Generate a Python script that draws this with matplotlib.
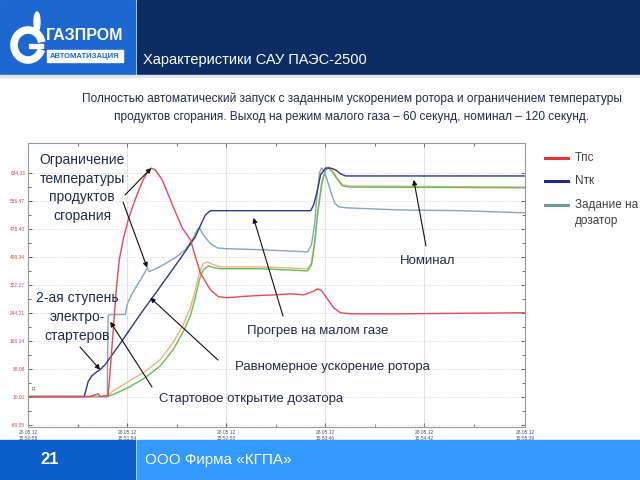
import matplotlib.pyplot as plt
import numpy as np
from matplotlib.patches import Rectangle, Arc, Ellipse

plt.rcParams['font.family'] = ['Liberation Sans', 'DejaVu Sans']

# время, с от 15:50:58
t_red = [0, 35.1, 39.7, 40.8, 45.3, 46.5, 48.2, 49.9, 51.6, 53.8, 56.7, 59.5, 62.3, 65.1, 68.0, 69.7,
         71.9, 75.9, 82.1, 87.2, 91.8, 97.4, 103.1, 107.6, 112.2, 120.1, 129.7, 139.9, 148.4, 155.8,
         160.9, 163.7, 166.0, 168.8, 172.8, 176.7, 182.4, 210.7, 281]
tps = [10, 10, 18, 10, 13, 85, 197, 308, 392, 448, 504, 545, 582, 615, 640, 648,
       643, 615, 540, 481, 448, 356, 308, 289, 286, 289, 292, 294, 297, 294,
       303, 311, 306, 286, 258, 244, 241, 241, 244]

t_ntk = [0, 31.7, 32.9, 34.0, 36.3, 39.1, 40.8, 43.6, 52.1, 63.4, 74.8, 86.1, 94.6, 97.4, 100.3,
         103.1, 108.8, 159.8, 161.5, 163.7, 165.4, 168.2, 171.1, 173.9, 176.7, 179.6, 281]
ntk = [10, 10, 30, 52, 69, 80, 85, 99, 158, 239, 317, 395, 456, 487, 517,
       529, 529, 529, 545, 587, 629, 648, 648, 643, 632, 626, 626]

t_doz = [0, 44.8, 45.3, 46.5, 55.0, 56.1, 58.3, 61.2, 64.0, 66.3, 67.4, 68.5, 70.8, 73.6, 77.6,
         83.3, 88.9, 92.9, 95.7, 96.9, 99.1, 103.1, 107.1, 111.6, 131.4, 158.1, 160.3, 162.0,
         163.7, 164.9, 166.0, 167.7, 170.5, 173.3, 175.6, 179.6, 210.7, 244.7, 281]
doz = [10, 10, 236, 239, 239, 267, 292, 317, 339, 359, 370, 359, 364, 370, 381,
       398, 420, 448, 476, 481, 462, 437, 425, 423, 420, 414, 434, 490,
       587, 637, 648, 637, 593, 551, 540, 537, 531, 529, 523]

t_grn = [0, 44.8, 49.3, 57.8, 66.3, 74.8, 82.1, 87.8, 91.8, 94.6, 96.9, 99.1, 102.0, 104.8, 108.8,
         131.4, 158.1, 160.3, 162.0, 163.7, 166.0, 168.2, 169.9, 172.2, 175.1, 177.9, 182.4, 281]
grn = [10, 10, 18, 38, 63, 96, 141, 191, 236, 286, 336, 364, 375, 370, 367,
       367, 361, 378, 434, 517, 601, 643, 648, 637, 615, 598, 595, 593]

t_orn = [0, 44.8, 47.6, 57.8, 66.3, 74.8, 82.1, 87.8, 91.8, 94.6, 96.9, 99.1, 101.4, 104.8, 108.8,
         131.4, 158.1, 160.3, 162.0, 163.7, 166.0, 168.2, 169.9, 172.2, 175.1, 177.9, 182.4, 281]
orn = [10, 10, 24, 55, 80, 113, 161, 211, 258, 308, 356, 381, 386, 378, 372,
       372, 367, 384, 439, 523, 607, 646, 651, 640, 618, 601, 598, 595]

x_ticks = [0, 56, 112, 168, 224, 281]
x_labels = ['28.05.12\n15:50:58', '28.05.12\n15:51:54', '28.05.12\n15:52:50',
            '28.05.12\n15:53:46', '28.05.12\n15:54:42', '28.05.12\n15:55:39']
y_ticks = [-68.05, 10.01, 88.08, 166.14, 244.21, 322.27, 400.34, 478.40, 556.47, 634.33]

W, H = 640, 480
def fx(x):
    return x / W
def fy(y):
    return 1 - y / H

fig = plt.figure(figsize=(6.4, 4.8), dpi=100)
fig.patch.set_facecolor('white')

# шапка
fig.patches.append(Rectangle((0, fy(74)), fx(135), 74 / H, transform=fig.transFigure, color='#1c68d0', zorder=0))
fig.patches.append(Rectangle((fx(137), fy(74)), 1 - fx(137), 74 / H, transform=fig.transFigure, color='#0c2d63', zorder=0))
fig.patches.append(Rectangle((0, fy(77)), 1, 2 / H, transform=fig.transFigure, color='#dfe6ee', zorder=0))
# подвал
fig.patches.append(Rectangle((0, 0), fx(135), 40 / H, transform=fig.transFigure, color='#0b5ec9', zorder=0))
fig.patches.append(Rectangle((fx(137), 0), 1 - fx(137), 40 / H, transform=fig.transFigure, color='#3399fa', zorder=0))

# логотип
fig.patches.append(Arc((fx(28), fy(45)), 28 / W, 30 / H, theta1=15, theta2=335,
                       transform=fig.transFigure, color='white', lw=5.5, zorder=1))
fig.patches.append(Rectangle((fx(29), fy(48)), 14 / W, 4 / H, transform=fig.transFigure,
                             color='white', zorder=1))
fig.patches.append(Ellipse((fx(37), fy(22)), 6 / W, 20 / H, transform=fig.transFigure,
                           color='white', zorder=1))
fig.text(fx(85), fy(36), 'ГАЗПРОМ', color='white', fontsize=11.5, fontweight='bold',
         va='center', ha='center')
fig.patches.append(Rectangle((fx(47), fy(62)), 76 / W, 12 / H, transform=fig.transFigure,
                             color='white', zorder=1))
fig.text(fx(85), fy(56), 'АВТОМАТИЗАЦИЯ', color='#1c68d0', fontsize=5.5, fontweight='bold',
         ha='center', va='center')

fig.text(fx(143), fy(60), 'Характеристики САУ ПАЭС-2500', color='white', fontsize=10.5, va='center')
fig.text(fx(40), fy(460), '21', color='white', fontsize=12, fontweight='bold', va='center')
fig.text(fx(145), fy(460), 'ООО Фирма «КГПА»', color='white', fontsize=11, va='center')

fig.text(fx(352), fy(99), 'Полностью автоматический запуск с заданным ускорением ротора и ограничением температуры',
         color='#1f2d4d', fontsize=8.6, ha='center', va='center')
fig.text(fx(352), fy(117), 'продуктов сгорания. Выход на режим малого газа – 60 секунд, номинал – 120 секунд.',
         color='#1f2d4d', fontsize=8.6, ha='center', va='center')

# график
ax = fig.add_axes([fx(28), fy(427), (525 - 28) / W, (427 - 143) / H])
ax.plot(t_orn, orn, color='#f2b27a', lw=1)
ax.plot(t_grn, grn, color='#5cc05c', lw=1)
ax.plot(t_doz, doz, color='#86a6bc', lw=1)
ax.plot(t_ntk, ntk, color='#2c3a8c', lw=1)
ax.plot(t_red, tps, color='#e84850', lw=1)

ax.set_xlim(0, 281)
ax.set_ylim(-75, 718)
ax.set_xticks(x_ticks)
ax.set_xticklabels(x_labels, fontsize=3.5, color='#555555')
ax.set_xticks(np.arange(28, 281, 56), minor=True)
ax.set_yticks(y_ticks)
ax.set_yticklabels(['%.2f' % v for v in y_ticks], fontsize=3.5, color='#d04848')
ax.set_yticks(np.array(y_ticks[:-1]) + 39.03, minor=True)
ax.tick_params(which='both', direction='in', top=True, right=True, length=3, width=0.6, color='#555555', pad=2)
ax.tick_params(which='minor', length=2)
ax.grid(axis='x', which='major', color='#dddddd', lw=0.6)
ax.grid(axis='y', which='major', color='#cccccc', lw=0.6, ls=':')
for s in ax.spines.values():
    s.set_color('#999999')
    s.set_linewidth(0.8)
ax.text(2, 25, 'R', fontsize=3.5, color='#606020')

navy = '#1f2d4d'
fs = 10
fs1 = 9.5
fig.text(fx(82), fy(188), 'Ограничение\nтемпературы\nпродуктов\nсгорания', color=navy, fontsize=fs,
         ha='center', va='center', linespacing=1.45)
fig.text(fx(77), fy(317), '2-ая ступень\nэлектро-\nстартеров', color=navy, fontsize=fs,
         ha='center', va='center', linespacing=1.45)
fig.text(fx(318), fy(331), 'Прогрев на малом газе', color=navy, fontsize=fs1, ha='center', va='center')
fig.text(fx(332), fy(367), 'Равномерное ускорение ротора', color=navy, fontsize=fs1, ha='center', va='center')
fig.text(fx(251), fy(399), 'Стартовое открытие дозатора', color=navy, fontsize=fs1, ha='center', va='center')
fig.text(fx(428), fy(261), 'Номинал', color=navy, fontsize=fs1, ha='center', va='center')

arrows = [((125, 195), (69.7, 648)),
          ((123, 202), (67.4, 370)),
          ((80, 347), (40.8, 85)),
          ((283, 316), (127.5, 509)),
          ((218, 360), (69.1, 286)),
          ((152, 387), (46.5, 219)),
          ((426, 246), (218.1, 615))]
for (sx, sy), target in arrows:
    ax.annotate('', xy=target, xycoords='data', xytext=(fx(sx), fy(sy)), textcoords='figure fraction',
                arrowprops=dict(arrowstyle='-|>', color='#111111', lw=0.8, shrinkA=0, shrinkB=0,
                                mutation_scale=7), annotation_clip=False)

# легенда
leg = [('Tпс', '#e8323a', 158), ('Nтк', '#1f2a80', 181), ('Задание на\nдозатор', '#6f9a96', 205)]
for name, col, y in leg:
    fig.add_artist(plt.Line2D([fx(545), fx(568)], [fy(y), fy(y)], color=col, lw=2.2, transform=fig.transFigure))
    fig.text(fx(575), fy(y - 6), name, color='#404040', fontsize=8.5, ha='left', va='top', linespacing=1.4)

fig.savefig('out.png', dpi=100)
